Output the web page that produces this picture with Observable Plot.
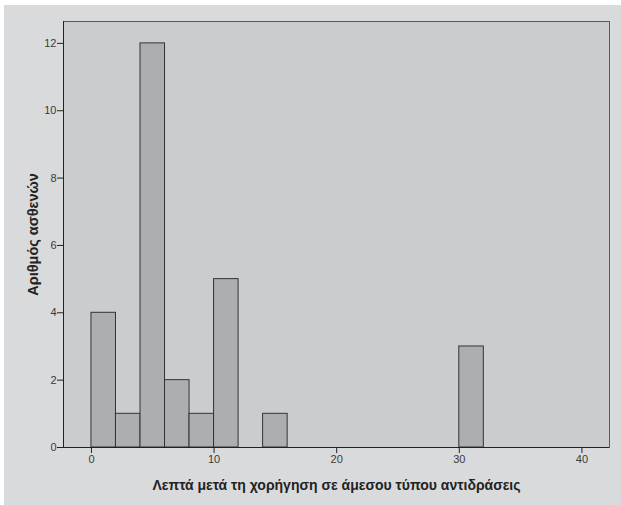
<!DOCTYPE html>
<html>
<head>
<meta charset="utf-8">
<script src="https://cdn.jsdelivr.net/npm/d3@7"></script>
<script src="https://cdn.jsdelivr.net/npm/@observablehq/plot@0.6"></script>
<style>
  html, body { margin: 0; padding: 0; background: #ffffff; }
  #chart { position: absolute; left: 4px; top: 5px; width: 617px; height: 500px; background: #d9dadb; }
  #chart svg { display: block; }
</style>
</head>
<body>
<div id="chart"></div>
<script>
// Histogram bins (minutes) and counts (patients)
const binStart = [0, 2, 4, 6, 8, 10, 14, 30];
const binWidth = 2;
const counts = [4, 1, 12, 2, 1, 5, 1, 3];
const xTicks = [0, 10, 20, 30, 40];
const yTicks = [0, 2, 4, 6, 8, 10, 12];
const xDomain = [-2.28, 42.25];
const yDomain = [0, 12.65];
const xTitle = "Λεπτά μετά τη χορήγηση σε άμεσου τύπου αντιδράσεις";
const yTitle = "Αριθμός ασθενών";

const bins = binStart.map((s, i) => ({x1: s, x2: s + binWidth, y: counts[i]}));

const chart = Plot.plot({
  width: 617,
  height: 500,
  marginLeft: 59,
  marginRight: 12,
  marginTop: 16,
  marginBottom: 58,
  style: {background: "transparent", fontFamily: "'Liberation Sans', Arial, sans-serif", fontSize: "11px", color: "#3a3a3a"},
  x: {domain: xDomain, ticks: xTicks},
  y: {domain: yDomain, ticks: yTicks},
  marks: [
    Plot.frame({fill: "#cbcccd", stroke: "#5a5a5a", strokeWidth: 1}),
    Plot.rectY(bins, {x1: "x1", x2: "x2", y: "y", fill: "#adaeb0", stroke: "#333333", strokeWidth: 1, insetLeft: 0, insetRight: 0}),
    Plot.ruleY([0], {stroke: "#222"}),
    Plot.ruleX([xDomain[0]], {stroke: "#222"}),
    Plot.axisX({ticks: xTicks, tickSize: 6, tickPadding: 2, label: null, stroke: "#222", fill: "#3a3a3a"}),
    Plot.axisY({ticks: yTicks, tickSize: 6, tickPadding: 1, label: null, stroke: "#222", fill: "#3a3a3a"}),
    Plot.text([xTitle], {frameAnchor: "bottom", dy: 38, text: d => d, textAnchor: "middle", lineAnchor: "middle", fontWeight: "bold", fontSize: 14, fill: "#222"}),
    Plot.text([yTitle], {frameAnchor: "left", dx: -30, rotate: -90, text: d => d, textAnchor: "middle", lineAnchor: "middle", fontWeight: "bold", fontSize: 14.5, fill: "#222"})
  ]
});
document.getElementById("chart").appendChild(chart);
</script>
</body>
</html>
